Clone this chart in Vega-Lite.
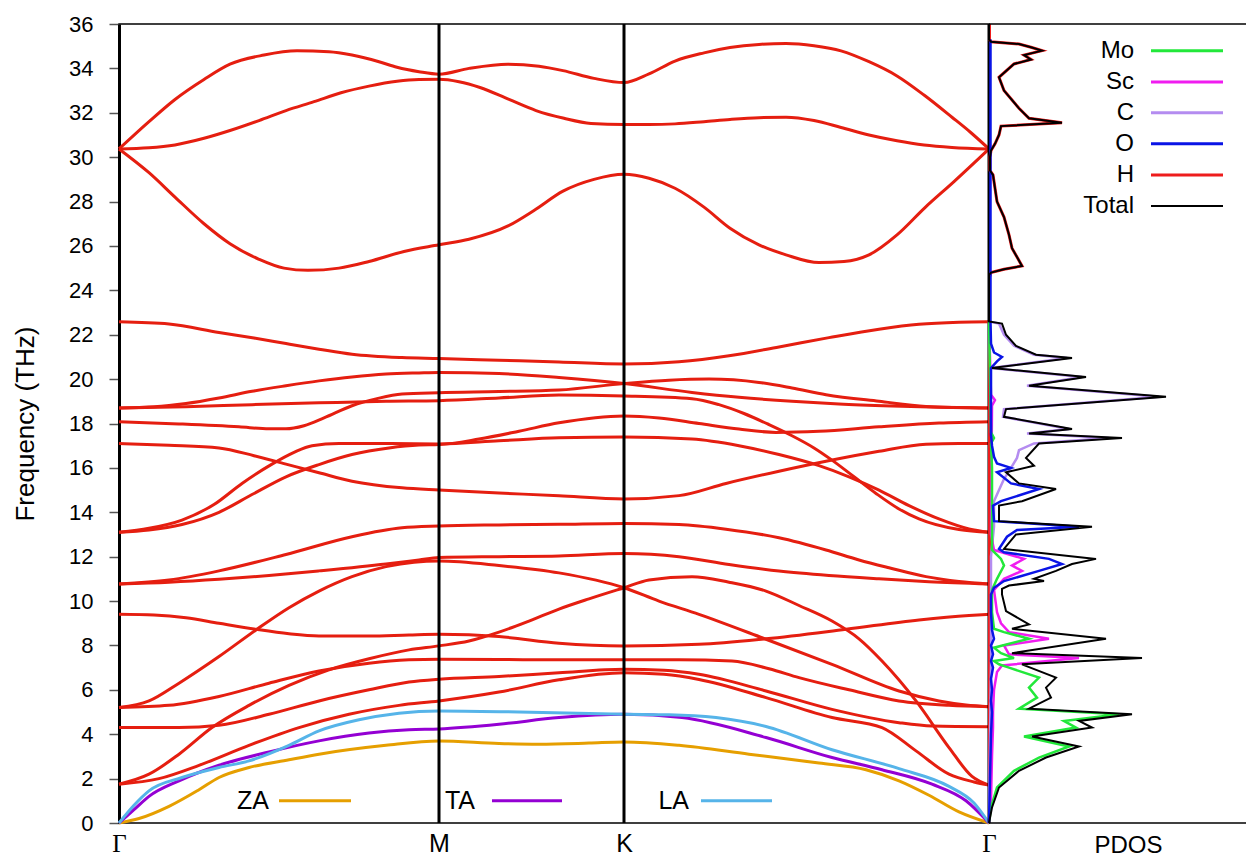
{
"$schema": "https://vega.github.io/schema/vega-lite/v6.json",
"background": "white",
"padding": {"left": 11, "top": 12, "right": 0, "bottom": 0},
"config": {"font": "Liberation Sans", "view": {"stroke": null}, "axis": {"grid": false}},
"spacing": 0,
"bounds": "flush",
"datasets": {
"opt": [
{"b":"A","x":0,"f":30.37},{"b":"A","x":30,"f":31.6},{"b":"A","x":56,"f":32.6},{"b":"A","x":85,"f":33.5},{"b":"A","x":111,"f":34.19},{"b":"A","x":145,"f":34.6},{"b":"A","x":178,"f":34.79},{"b":"A","x":210,"f":34.75},{"b":"A","x":233,"f":34.6},{"b":"A","x":260,"f":34.3},{"b":"A","x":278,"f":34.05},{"b":"A","x":300,"f":33.85},{"b":"A","x":320,"f":33.74},{"b":"A","x":350,"f":34.0},{"b":"A","x":389,"f":34.19},{"b":"A","x":420,"f":34.1},{"b":"A","x":444,"f":33.9},{"b":"A","x":475,"f":33.55},{"b":"A","x":505,"f":33.36},{"b":"A","x":530,"f":33.75},{"b":"A","x":556,"f":34.33},{"b":"A","x":585,"f":34.7},{"b":"A","x":611,"f":34.94},{"b":"A","x":640,"f":35.08},{"b":"A","x":667,"f":35.12},{"b":"A","x":695,"f":35.02},{"b":"A","x":722,"f":34.79},{"b":"A","x":750,"f":34.3},{"b":"A","x":778,"f":33.66},{"b":"A","x":805,"f":32.8},{"b":"A","x":833,"f":31.8},{"b":"A","x":852,"f":31.1},{"b":"A","x":870,"f":30.37},
{"b":"B","x":0,"f":30.37},{"b":"B","x":30,"f":30.42},{"b":"B","x":56,"f":30.55},{"b":"B","x":85,"f":30.85},{"b":"B","x":111,"f":31.2},{"b":"B","x":140,"f":31.65},{"b":"B","x":167,"f":32.1},{"b":"B","x":195,"f":32.5},{"b":"B","x":222,"f":32.9},{"b":"B","x":250,"f":33.2},{"b":"B","x":278,"f":33.42},{"b":"B","x":300,"f":33.5},{"b":"B","x":320,"f":33.51},{"b":"B","x":340,"f":33.4},{"b":"B","x":361,"f":33.14},{"b":"B","x":390,"f":32.6},{"b":"B","x":417,"f":32.1},{"b":"B","x":445,"f":31.75},{"b":"B","x":472,"f":31.52},{"b":"B","x":505,"f":31.47},{"b":"B","x":530,"f":31.47},{"b":"B","x":556,"f":31.5},{"b":"B","x":585,"f":31.6},{"b":"B","x":611,"f":31.7},{"b":"B","x":640,"f":31.78},{"b":"B","x":667,"f":31.8},{"b":"B","x":695,"f":31.65},{"b":"B","x":722,"f":31.34},{"b":"B","x":750,"f":31.0},{"b":"B","x":778,"f":30.74},{"b":"B","x":805,"f":30.55},{"b":"B","x":833,"f":30.44},{"b":"B","x":870,"f":30.37},
{"b":"C","x":0,"f":30.37},{"b":"C","x":30,"f":29.3},{"b":"C","x":56,"f":28.2},{"b":"C","x":85,"f":27.0},{"b":"C","x":111,"f":26.1},{"b":"C","x":140,"f":25.4},{"b":"C","x":165,"f":25.0},{"b":"C","x":189,"f":24.9},{"b":"C","x":220,"f":25.0},{"b":"C","x":250,"f":25.3},{"b":"C","x":285,"f":25.75},{"b":"C","x":320,"f":26.05},{"b":"C","x":350,"f":26.3},{"b":"C","x":389,"f":26.9},{"b":"C","x":415,"f":27.6},{"b":"C","x":444,"f":28.47},{"b":"C","x":475,"f":29.0},{"b":"C","x":505,"f":29.23},{"b":"C","x":530,"f":29.05},{"b":"C","x":556,"f":28.6},{"b":"C","x":585,"f":27.75},{"b":"C","x":611,"f":26.8},{"b":"C","x":640,"f":26.05},{"b":"C","x":667,"f":25.6},{"b":"C","x":700,"f":25.25},{"b":"C","x":725,"f":25.3},{"b":"C","x":750,"f":25.6},{"b":"C","x":778,"f":26.5},{"b":"C","x":806,"f":27.73},{"b":"C","x":835,"f":28.9},{"b":"C","x":870,"f":30.37},
{"b":"M1","x":0,"f":22.58},{"b":"M1","x":50,"f":22.48},{"b":"M1","x":100,"f":22.1},{"b":"M1","x":135,"f":21.85},{"b":"M1","x":167,"f":21.6},{"b":"M1","x":200,"f":21.35},{"b":"M1","x":233,"f":21.12},{"b":"M1","x":283,"f":20.97},{"b":"M1","x":320,"f":20.93},{"b":"M1","x":380,"f":20.85},{"b":"M1","x":440,"f":20.77},{"b":"M1","x":505,"f":20.68},{"b":"M1","x":560,"f":20.78},{"b":"M1","x":610,"f":21.05},{"b":"M1","x":660,"f":21.45},{"b":"M1","x":710,"f":21.87},{"b":"M1","x":760,"f":22.25},{"b":"M1","x":800,"f":22.47},{"b":"M1","x":840,"f":22.56},{"b":"M1","x":870,"f":22.58},
{"b":"M2","x":0,"f":18.7},{"b":"M2","x":35,"f":18.75},{"b":"M2","x":67,"f":18.9},{"b":"M2","x":100,"f":19.15},{"b":"M2","x":133,"f":19.45},{"b":"M2","x":167,"f":19.7},{"b":"M2","x":200,"f":19.92},{"b":"M2","x":233,"f":20.1},{"b":"M2","x":267,"f":20.23},{"b":"M2","x":300,"f":20.28},{"b":"M2","x":320,"f":20.3},{"b":"M2","x":380,"f":20.25},{"b":"M2","x":440,"f":20.07},{"b":"M2","x":505,"f":19.8},{"b":"M2","x":573,"f":19.4},{"b":"M2","x":620,"f":19.18},{"b":"M2","x":673,"f":19.0},{"b":"M2","x":720,"f":18.88},{"b":"M2","x":773,"f":18.79},{"b":"M2","x":820,"f":18.73},{"b":"M2","x":870,"f":18.7},
{"b":"M3","x":0,"f":18.08},{"b":"M3","x":60,"f":17.98},{"b":"M3","x":120,"f":17.85},{"b":"M3","x":150,"f":17.76},{"b":"M3","x":167,"f":17.76},{"b":"M3","x":185,"f":17.9},{"b":"M3","x":205,"f":18.25},{"b":"M3","x":233,"f":18.8},{"b":"M3","x":258,"f":19.12},{"b":"M3","x":283,"f":19.33},{"b":"M3","x":320,"f":19.39},{"b":"M3","x":380,"f":19.44},{"b":"M3","x":440,"f":19.51},{"b":"M3","x":505,"f":19.8},{"b":"M3","x":550,"f":19.95},{"b":"M3","x":590,"f":20.0},{"b":"M3","x":640,"f":19.85},{"b":"M3","x":673,"f":19.6},{"b":"M3","x":707,"f":19.3},{"b":"M3","x":760,"f":19.0},{"b":"M3","x":807,"f":18.77},{"b":"M3","x":870,"f":18.7},
{"b":"M4","x":0,"f":18.7},{"b":"M4","x":67,"f":18.75},{"b":"M4","x":133,"f":18.85},{"b":"M4","x":200,"f":18.93},{"b":"M4","x":267,"f":19.0},{"b":"M4","x":320,"f":19.03},{"b":"M4","x":380,"f":19.15},{"b":"M4","x":440,"f":19.28},{"b":"M4","x":505,"f":19.24},{"b":"M4","x":573,"f":19.12},{"b":"M4","x":600,"f":18.85},{"b":"M4","x":625,"f":18.45},{"b":"M4","x":650,"f":17.95},{"b":"M4","x":673,"f":17.45},{"b":"M4","x":695,"f":16.9},{"b":"M4","x":713,"f":16.35},{"b":"M4","x":735,"f":15.6},{"b":"M4","x":757,"f":14.85},{"b":"M4","x":780,"f":14.15},{"b":"M4","x":800,"f":13.7},{"b":"M4","x":840,"f":13.22},{"b":"M4","x":870,"f":13.1},
{"b":"M5","x":0,"f":17.1},{"b":"M5","x":50,"f":17.02},{"b":"M5","x":100,"f":16.9},{"b":"M5","x":135,"f":16.55},{"b":"M5","x":167,"f":16.17},{"b":"M5","x":200,"f":15.78},{"b":"M5","x":233,"f":15.4},{"b":"M5","x":283,"f":15.1},{"b":"M5","x":320,"f":15.0},{"b":"M5","x":380,"f":14.87},{"b":"M5","x":440,"f":14.74},{"b":"M5","x":505,"f":14.6},{"b":"M5","x":560,"f":14.75},{"b":"M5","x":607,"f":15.3},{"b":"M5","x":660,"f":15.85},{"b":"M5","x":707,"f":16.3},{"b":"M5","x":760,"f":16.75},{"b":"M5","x":807,"f":17.07},{"b":"M5","x":840,"f":17.1},{"b":"M5","x":870,"f":17.1},
{"b":"M6","x":0,"f":13.1},{"b":"M6","x":30,"f":13.28},{"b":"M6","x":63,"f":13.65},{"b":"M6","x":95,"f":14.35},{"b":"M6","x":123,"f":15.3},{"b":"M6","x":153,"f":16.17},{"b":"M6","x":175,"f":16.7},{"b":"M6","x":193,"f":17.0},{"b":"M6","x":220,"f":17.1},{"b":"M6","x":270,"f":17.1},{"b":"M6","x":320,"f":17.08},{"b":"M6","x":380,"f":17.22},{"b":"M6","x":440,"f":17.36},{"b":"M6","x":505,"f":17.39},{"b":"M6","x":573,"f":17.3},{"b":"M6","x":620,"f":17.0},{"b":"M6","x":660,"f":16.6},{"b":"M6","x":700,"f":16.1},{"b":"M6","x":730,"f":15.6},{"b":"M6","x":760,"f":15.0},{"b":"M6","x":790,"f":14.3},{"b":"M6","x":820,"f":13.7},{"b":"M6","x":850,"f":13.25},{"b":"M6","x":870,"f":13.1},
{"b":"M7","x":0,"f":13.1},{"b":"M7","x":30,"f":13.2},{"b":"M7","x":63,"f":13.45},{"b":"M7","x":100,"f":14.0},{"b":"M7","x":133,"f":14.8},{"b":"M7","x":167,"f":15.6},{"b":"M7","x":200,"f":16.15},{"b":"M7","x":233,"f":16.6},{"b":"M7","x":270,"f":16.9},{"b":"M7","x":300,"f":17.03},{"b":"M7","x":320,"f":17.05},{"b":"M7","x":360,"f":17.3},{"b":"M7","x":400,"f":17.65},{"b":"M7","x":440,"f":18.03},{"b":"M7","x":505,"f":18.34},{"b":"M7","x":540,"f":18.25},{"b":"M7","x":580,"f":18.0},{"b":"M7","x":620,"f":17.75},{"b":"M7","x":657,"f":17.6},{"b":"M7","x":700,"f":17.65},{"b":"M7","x":760,"f":17.85},{"b":"M7","x":820,"f":18.02},{"b":"M7","x":870,"f":18.08},
{"b":"L1","x":0,"f":10.77},{"b":"L1","x":50,"f":10.95},{"b":"L1","x":100,"f":11.36},{"b":"L1","x":167,"f":12.1},{"b":"L1","x":233,"f":12.9},{"b":"L1","x":283,"f":13.3},{"b":"L1","x":320,"f":13.38},{"b":"L1","x":380,"f":13.43},{"b":"L1","x":440,"f":13.46},{"b":"L1","x":505,"f":13.5},{"b":"L1","x":560,"f":13.45},{"b":"L1","x":607,"f":13.24},{"b":"L1","x":660,"f":12.85},{"b":"L1","x":707,"f":12.3},{"b":"L1","x":740,"f":11.85},{"b":"L1","x":770,"f":11.5},{"b":"L1","x":807,"f":11.1},{"b":"L1","x":840,"f":10.88},{"b":"L1","x":870,"f":10.77},
{"b":"L2","x":0,"f":10.77},{"b":"L2","x":50,"f":10.85},{"b":"L2","x":100,"f":10.98},{"b":"L2","x":150,"f":11.15},{"b":"L2","x":200,"f":11.36},{"b":"L2","x":267,"f":11.67},{"b":"L2","x":300,"f":11.85},{"b":"L2","x":320,"f":11.96},{"b":"L2","x":380,"f":12.0},{"b":"L2","x":440,"f":12.03},{"b":"L2","x":505,"f":12.14},{"b":"L2","x":560,"f":12.0},{"b":"L2","x":610,"f":11.65},{"b":"L2","x":660,"f":11.35},{"b":"L2","x":710,"f":11.15},{"b":"L2","x":760,"f":11.0},{"b":"L2","x":810,"f":10.87},{"b":"L2","x":870,"f":10.77},
{"b":"L3","x":0,"f":5.2},{"b":"L3","x":30,"f":5.5},{"b":"L3","x":60,"f":6.3},{"b":"L3","x":100,"f":7.5},{"b":"L3","x":137,"f":8.7},{"b":"L3","x":170,"f":9.7},{"b":"L3","x":200,"f":10.45},{"b":"L3","x":233,"f":11.1},{"b":"L3","x":267,"f":11.55},{"b":"L3","x":295,"f":11.75},{"b":"L3","x":320,"f":11.8},{"b":"L3","x":380,"f":11.6},{"b":"L3","x":440,"f":11.27},{"b":"L3","x":505,"f":10.6},{"b":"L3","x":540,"f":10.0},{"b":"L3","x":580,"f":9.4},{"b":"L3","x":647,"f":8.28},{"b":"L3","x":713,"f":7.15},{"b":"L3","x":780,"f":5.95},{"b":"L3","x":820,"f":5.5},{"b":"L3","x":847,"f":5.32},{"b":"L3","x":870,"f":5.24},
{"b":"L5","x":0,"f":1.75},{"b":"L5","x":30,"f":2.2},{"b":"L5","x":60,"f":3.1},{"b":"L5","x":93,"f":4.3},{"b":"L5","x":130,"f":5.3},{"b":"L5","x":170,"f":6.2},{"b":"L5","x":210,"f":6.9},{"b":"L5","x":250,"f":7.4},{"b":"L5","x":290,"f":7.8},{"b":"L5","x":320,"f":7.98},{"b":"L5","x":350,"f":8.2},{"b":"L5","x":380,"f":8.6},{"b":"L5","x":410,"f":9.1},{"b":"L5","x":440,"f":9.64},{"b":"L5","x":470,"f":10.1},{"b":"L5","x":505,"f":10.6},{"b":"L5","x":530,"f":10.95},{"b":"L5","x":573,"f":11.1},{"b":"L5","x":610,"f":10.85},{"b":"L5","x":647,"f":10.45},{"b":"L5","x":680,"f":9.8},{"b":"L5","x":713,"f":9.1},{"b":"L5","x":740,"f":8.3},{"b":"L5","x":763,"f":7.3},{"b":"L5","x":797,"f":5.5},{"b":"L5","x":830,"f":3.4},{"b":"L5","x":853,"f":2.1},{"b":"L5","x":870,"f":1.71},
{"b":"L6","x":0,"f":9.4},{"b":"L6","x":35,"f":9.37},{"b":"L6","x":67,"f":9.25},{"b":"L6","x":100,"f":9.0},{"b":"L6","x":137,"f":8.73},{"b":"L6","x":170,"f":8.53},{"b":"L6","x":200,"f":8.43},{"b":"L6","x":250,"f":8.42},{"b":"L6","x":290,"f":8.47},{"b":"L6","x":320,"f":8.5},{"b":"L6","x":380,"f":8.4},{"b":"L6","x":440,"f":8.1},{"b":"L6","x":505,"f":7.98},{"b":"L6","x":580,"f":8.05},{"b":"L6","x":647,"f":8.3},{"b":"L6","x":727,"f":8.73},{"b":"L6","x":800,"f":9.15},{"b":"L6","x":850,"f":9.35},{"b":"L6","x":870,"f":9.4},
{"b":"L7","x":0,"f":5.2},{"b":"L7","x":50,"f":5.3},{"b":"L7","x":100,"f":5.7},{"b":"L7","x":150,"f":6.3},{"b":"L7","x":200,"f":6.85},{"b":"L7","x":250,"f":7.2},{"b":"L7","x":290,"f":7.35},{"b":"L7","x":320,"f":7.38},{"b":"L7","x":380,"f":7.37},{"b":"L7","x":440,"f":7.35},{"b":"L7","x":505,"f":7.35},{"b":"L7","x":560,"f":7.35},{"b":"L7","x":613,"f":7.3},{"b":"L7","x":650,"f":6.95},{"b":"L7","x":680,"f":6.55},{"b":"L7","x":730,"f":6.0},{"b":"L7","x":780,"f":5.5},{"b":"L7","x":830,"f":5.3},{"b":"L7","x":870,"f":5.24},
{"b":"L8","x":0,"f":1.75},{"b":"L8","x":40,"f":2.0},{"b":"L8","x":80,"f":2.6},{"b":"L8","x":130,"f":3.5},{"b":"L8","x":180,"f":4.3},{"b":"L8","x":230,"f":4.9},{"b":"L8","x":280,"f":5.3},{"b":"L8","x":320,"f":5.5},{"b":"L8","x":380,"f":5.9},{"b":"L8","x":440,"f":6.45},{"b":"L8","x":505,"f":6.77},{"b":"L8","x":545,"f":6.7},{"b":"L8","x":580,"f":6.47},{"b":"L8","x":647,"f":5.65},{"b":"L8","x":713,"f":4.75},{"b":"L8","x":763,"f":4.3},{"b":"L8","x":797,"f":3.25},{"b":"L8","x":830,"f":2.2},{"b":"L8","x":855,"f":1.85},{"b":"L8","x":870,"f":1.71},
{"b":"L9","x":0,"f":4.3},{"b":"L9","x":60,"f":4.3},{"b":"L9","x":100,"f":4.4},{"b":"L9","x":150,"f":4.9},{"b":"L9","x":200,"f":5.5},{"b":"L9","x":250,"f":6.0},{"b":"L9","x":290,"f":6.35},{"b":"L9","x":320,"f":6.48},{"b":"L9","x":380,"f":6.6},{"b":"L9","x":440,"f":6.77},{"b":"L9","x":505,"f":6.93},{"b":"L9","x":545,"f":6.88},{"b":"L9","x":580,"f":6.7},{"b":"L9","x":647,"f":5.95},{"b":"L9","x":713,"f":5.12},{"b":"L9","x":780,"f":4.52},{"b":"L9","x":813,"f":4.37},{"b":"L9","x":870,"f":4.34}
],
"ac": [
{"b":"ZA","x":0,"f":0},{"b":"ZA","x":20,"f":0.2},{"b":"ZA","x":50,"f":0.75},{"b":"ZA","x":80,"f":1.5},{"b":"ZA","x":100,"f":2.05},{"b":"ZA","x":130,"f":2.5},{"b":"ZA","x":170,"f":2.85},{"b":"ZA","x":200,"f":3.1},{"b":"ZA","x":267,"f":3.5},{"b":"ZA","x":320,"f":3.7},{"b":"ZA","x":380,"f":3.58},{"b":"ZA","x":420,"f":3.55},{"b":"ZA","x":470,"f":3.6},{"b":"ZA","x":505,"f":3.65},{"b":"ZA","x":560,"f":3.5},{"b":"ZA","x":630,"f":3.1},{"b":"ZA","x":700,"f":2.7},{"b":"ZA","x":747,"f":2.4},{"b":"ZA","x":780,"f":1.9},{"b":"ZA","x":810,"f":1.25},{"b":"ZA","x":840,"f":0.5},{"b":"ZA","x":870,"f":0},
{"b":"TA","x":0,"f":0},{"b":"TA","x":15,"f":0.6},{"b":"TA","x":30,"f":1.2},{"b":"TA","x":60,"f":1.9},{"b":"TA","x":100,"f":2.6},{"b":"TA","x":150,"f":3.2},{"b":"TA","x":200,"f":3.7},{"b":"TA","x":250,"f":4.05},{"b":"TA","x":290,"f":4.2},{"b":"TA","x":320,"f":4.24},{"b":"TA","x":380,"f":4.45},{"b":"TA","x":440,"f":4.75},{"b":"TA","x":505,"f":4.9},{"b":"TA","x":563,"f":4.75},{"b":"TA","x":647,"f":3.85},{"b":"TA","x":713,"f":2.95},{"b":"TA","x":763,"f":2.4},{"b":"TA","x":813,"f":1.75},{"b":"TA","x":847,"f":1.0},{"b":"TA","x":870,"f":0},
{"b":"LA","x":0,"f":0},{"b":"LA","x":15,"f":0.8},{"b":"LA","x":30,"f":1.45},{"b":"LA","x":63,"f":2.05},{"b":"LA","x":100,"f":2.5},{"b":"LA","x":130,"f":2.8},{"b":"LA","x":170,"f":3.5},{"b":"LA","x":200,"f":4.15},{"b":"LA","x":240,"f":4.65},{"b":"LA","x":280,"f":4.95},{"b":"LA","x":320,"f":5.05},{"b":"LA","x":400,"f":5.0},{"b":"LA","x":505,"f":4.9},{"b":"LA","x":550,"f":4.88},{"b":"LA","x":597,"f":4.75},{"b":"LA","x":647,"f":4.35},{"b":"LA","x":713,"f":3.3},{"b":"LA","x":780,"f":2.45},{"b":"LA","x":830,"f":1.65},{"b":"LA","x":855,"f":0.9},{"b":"LA","x":870,"f":0}
],
"pdos": [
{"s":"Total","f":0,"v":0},{"s":"Total","f":0.7,"v":3},{"s":"Total","f":1.6,"v":10},{"s":"Total","f":2.35,"v":30},{"s":"Total","f":2.95,"v":57},{"s":"Total","f":3.45,"v":90},{"s":"Total","f":3.9,"v":43},{"s":"Total","f":4.3,"v":103},{"s":"Total","f":4.6,"v":90},{"s":"Total","f":4.9,"v":143},{"s":"Total","f":5.15,"v":40},{"s":"Total","f":5.65,"v":62},{"s":"Total","f":6.1,"v":57},{"s":"Total","f":6.55,"v":67},{"s":"Total","f":7.15,"v":33},{"s":"Total","f":7.43,"v":153},{"s":"Total","f":7.65,"v":23},{"s":"Total","f":8.3,"v":117},{"s":"Total","f":8.75,"v":23},{"s":"Total","f":8.95,"v":40},{"s":"Total","f":9.55,"v":17},{"s":"Total","f":10.3,"v":13},{"s":"Total","f":10.55,"v":13},{"s":"Total","f":10.7,"v":20},{"s":"Total","f":10.9,"v":55},{"s":"Total","f":11.0,"v":45},{"s":"Total","f":11.36,"v":67},{"s":"Total","f":11.67,"v":83},{"s":"Total","f":11.9,"v":107},{"s":"Total","f":12.35,"v":15},{"s":"Total","f":13.0,"v":27},{"s":"Total","f":13.35,"v":103},{"s":"Total","f":13.6,"v":10},{"s":"Total","f":14.3,"v":10},{"s":"Total","f":14.5,"v":33},{"s":"Total","f":15.05,"v":67},{"s":"Total","f":15.3,"v":30},{"s":"Total","f":15.8,"v":17},{"s":"Total","f":16.1,"v":45},{"s":"Total","f":16.45,"v":37},{"s":"Total","f":17.1,"v":50},{"s":"Total","f":17.35,"v":133},{"s":"Total","f":17.55,"v":40},{"s":"Total","f":17.75,"v":83},{"s":"Total","f":18.3,"v":15},{"s":"Total","f":18.65,"v":17},{"s":"Total","f":19.2,"v":177},{"s":"Total","f":19.7,"v":40},{"s":"Total","f":20.1,"v":97},{"s":"Total","f":20.5,"v":3},{"s":"Total","f":20.95,"v":83},{"s":"Total","f":21.1,"v":47},{"s":"Total","f":21.5,"v":27},{"s":"Total","f":22.0,"v":17},{"s":"Total","f":22.5,"v":13},{"s":"Total","f":22.6,"v":0},{"s":"Total","f":24.7,"v":0},{"s":"Total","f":24.8,"v":2},{"s":"Total","f":24.95,"v":15},{"s":"Total","f":25.1,"v":33},{"s":"Total","f":25.5,"v":28},{"s":"Total","f":25.9,"v":23},{"s":"Total","f":26.5,"v":20},{"s":"Total","f":27.3,"v":15},{"s":"Total","f":28.0,"v":8},{"s":"Total","f":29.2,"v":4},{"s":"Total","f":29.4,"v":1},{"s":"Total","f":30.0,"v":1},{"s":"Total","f":30.3,"v":2},{"s":"Total","f":30.6,"v":6},{"s":"Total","f":31.0,"v":10},{"s":"Total","f":31.4,"v":12},{"s":"Total","f":31.55,"v":73},{"s":"Total","f":31.75,"v":40},{"s":"Total","f":32.2,"v":30},{"s":"Total","f":33.0,"v":15},{"s":"Total","f":33.6,"v":10},{"s":"Total","f":34.2,"v":25},{"s":"Total","f":34.4,"v":42},{"s":"Total","f":34.6,"v":35},{"s":"Total","f":34.8,"v":53},{"s":"Total","f":34.95,"v":42},{"s":"Total","f":35.1,"v":30},{"s":"Total","f":35.2,"v":2},{"s":"Total","f":35.3,"v":0},{"s":"Total","f":36,"v":0},
{"s":"H","f":0,"v":0.5},{"s":"H","f":24.6,"v":0.5},{"s":"H","f":24.8,"v":2},{"s":"H","f":24.95,"v":15},{"s":"H","f":25.1,"v":33},{"s":"H","f":25.5,"v":28},{"s":"H","f":25.9,"v":23},{"s":"H","f":26.5,"v":20},{"s":"H","f":27.3,"v":15},{"s":"H","f":28.0,"v":8},{"s":"H","f":29.2,"v":4},{"s":"H","f":29.4,"v":1},{"s":"H","f":30.0,"v":1},{"s":"H","f":30.3,"v":2},{"s":"H","f":30.6,"v":6},{"s":"H","f":31.0,"v":10},{"s":"H","f":31.4,"v":12},{"s":"H","f":31.55,"v":73},{"s":"H","f":31.75,"v":40},{"s":"H","f":32.2,"v":30},{"s":"H","f":33.0,"v":15},{"s":"H","f":33.6,"v":10},{"s":"H","f":34.2,"v":25},{"s":"H","f":34.4,"v":42},{"s":"H","f":34.6,"v":35},{"s":"H","f":34.8,"v":53},{"s":"H","f":34.95,"v":42},{"s":"H","f":35.1,"v":30},{"s":"H","f":35.2,"v":2},{"s":"H","f":35.3,"v":0.5},{"s":"H","f":36,"v":0.5},
{"s":"O","f":0,"v":0},{"s":"O","f":1,"v":0.5},{"s":"O","f":2,"v":1},{"s":"O","f":3,"v":1.5},{"s":"O","f":4,"v":2},{"s":"O","f":5,"v":3},{"s":"O","f":5.5,"v":2},{"s":"O","f":6,"v":3},{"s":"O","f":6.5,"v":2},{"s":"O","f":7,"v":4},{"s":"O","f":7.3,"v":2},{"s":"O","f":7.6,"v":4},{"s":"O","f":8,"v":2},{"s":"O","f":8.3,"v":5},{"s":"O","f":8.7,"v":3},{"s":"O","f":9.5,"v":2},{"s":"O","f":10.3,"v":2},{"s":"O","f":10.6,"v":5},{"s":"O","f":10.9,"v":15},{"s":"O","f":11.36,"v":50},{"s":"O","f":11.67,"v":73},{"s":"O","f":11.9,"v":60},{"s":"O","f":12.2,"v":15},{"s":"O","f":12.35,"v":10},{"s":"O","f":12.9,"v":18},{"s":"O","f":13.2,"v":28},{"s":"O","f":13.35,"v":90},{"s":"O","f":13.6,"v":5},{"s":"O","f":14.3,"v":4},{"s":"O","f":14.5,"v":12},{"s":"O","f":15.05,"v":50},{"s":"O","f":15.3,"v":22},{"s":"O","f":15.8,"v":8},{"s":"O","f":16.0,"v":22},{"s":"O","f":16.2,"v":8},{"s":"O","f":16.5,"v":5},{"s":"O","f":17.0,"v":3},{"s":"O","f":17.5,"v":2},{"s":"O","f":20.5,"v":2},{"s":"O","f":20.8,"v":8},{"s":"O","f":21.0,"v":13},{"s":"O","f":21.2,"v":5},{"s":"O","f":21.6,"v":2},{"s":"O","f":22.6,"v":1.5},{"s":"O","f":35.3,"v":1.5},
{"s":"C","f":0,"v":0},{"s":"C","f":7.4,"v":2},{"s":"C","f":12,"v":2},{"s":"C","f":13.35,"v":5},{"s":"C","f":14.5,"v":5},{"s":"C","f":15.0,"v":10},{"s":"C","f":15.5,"v":15},{"s":"C","f":16.0,"v":22},{"s":"C","f":16.45,"v":28},{"s":"C","f":16.8,"v":30},{"s":"C","f":17.1,"v":45},{"s":"C","f":17.35,"v":120},{"s":"C","f":17.55,"v":38},{"s":"C","f":17.75,"v":80},{"s":"C","f":18.3,"v":14},{"s":"C","f":18.65,"v":15},{"s":"C","f":19.2,"v":170},{"s":"C","f":19.7,"v":38},{"s":"C","f":20.1,"v":93},{"s":"C","f":20.5,"v":2},{"s":"C","f":20.95,"v":78},{"s":"C","f":21.1,"v":45},{"s":"C","f":21.5,"v":25},{"s":"C","f":22.0,"v":15},{"s":"C","f":22.5,"v":10},{"s":"C","f":22.6,"v":0},
{"s":"Sc","f":0,"v":0},{"s":"Sc","f":1,"v":2},{"s":"Sc","f":3,"v":3},{"s":"Sc","f":4.3,"v":4},{"s":"Sc","f":5,"v":4},{"s":"Sc","f":6,"v":5},{"s":"Sc","f":6.8,"v":8},{"s":"Sc","f":7.1,"v":13},{"s":"Sc","f":7.43,"v":90},{"s":"Sc","f":7.6,"v":20},{"s":"Sc","f":8.0,"v":15},{"s":"Sc","f":8.3,"v":60},{"s":"Sc","f":8.6,"v":20},{"s":"Sc","f":9.0,"v":12},{"s":"Sc","f":9.5,"v":8},{"s":"Sc","f":10.5,"v":5},{"s":"Sc","f":11.0,"v":15},{"s":"Sc","f":11.36,"v":33},{"s":"Sc","f":11.6,"v":23},{"s":"Sc","f":11.9,"v":35},{"s":"Sc","f":12.3,"v":5},{"s":"Sc","f":13,"v":2},{"s":"Sc","f":18.8,"v":3},{"s":"Sc","f":19.05,"v":6},{"s":"Sc","f":19.3,"v":2},{"s":"Sc","f":22.6,"v":0},
{"s":"Mo","f":0,"v":0},{"s":"Mo","f":0.7,"v":2},{"s":"Mo","f":1.6,"v":8},{"s":"Mo","f":2.35,"v":25},{"s":"Mo","f":2.95,"v":50},{"s":"Mo","f":3.45,"v":80},{"s":"Mo","f":3.9,"v":35},{"s":"Mo","f":4.3,"v":87},{"s":"Mo","f":4.6,"v":75},{"s":"Mo","f":4.9,"v":130},{"s":"Mo","f":5.15,"v":30},{"s":"Mo","f":5.65,"v":48},{"s":"Mo","f":6.1,"v":40},{"s":"Mo","f":6.55,"v":50},{"s":"Mo","f":7.0,"v":20},{"s":"Mo","f":7.15,"v":10},{"s":"Mo","f":7.3,"v":5},{"s":"Mo","f":7.43,"v":25},{"s":"Mo","f":7.65,"v":12},{"s":"Mo","f":7.9,"v":5},{"s":"Mo","f":8.3,"v":40},{"s":"Mo","f":8.6,"v":15},{"s":"Mo","f":8.75,"v":5},{"s":"Mo","f":9.5,"v":3},{"s":"Mo","f":10.5,"v":3},{"s":"Mo","f":11.0,"v":8},{"s":"Mo","f":11.6,"v":15},{"s":"Mo","f":11.9,"v":12},{"s":"Mo","f":12.3,"v":3},{"s":"Mo","f":16,"v":3},{"s":"Mo","f":17.1,"v":2},{"s":"Mo","f":17.35,"v":5},{"s":"Mo","f":17.6,"v":2},{"s":"Mo","f":22.6,"v":0}
],
"kpts": [{"p":"M","x":320},{"p":"K","x":505},{"p":"Γ","x":870}]
},
"hconcat": [
{
"width": 870, "height": 799,
"view": {"stroke": "black", "strokeWidth": 1.5},
"layer": [
{"data": {"name": "opt"},
 "mark": {"type": "line", "interpolate": "monotone", "strokeWidth": 3, "color": "#E51E10"},
 "encoding": {
  "x": {"field": "x", "type": "quantitative", "scale": {"domain": [0, 870], "nice": false, "zero": false},
        "axis": {"values": [0, 320, 505, 870], "labelExpr": "datum.value == 320 ? 'M' : datum.value == 505 ? 'K' : 'Γ'", "ticks": false, "domain": false, "grid": false, "title": null, "labelFontSize": 25, "labelColor": "black", "labelPadding": 8, "labelFlush": false, "labelOverlap": false, "labelFont": {"condition": {"test": "datum.value == 0 || datum.value == 870", "value": "Liberation Serif"}, "value": "Liberation Sans"}}},
  "y": {"field": "f", "type": "quantitative", "scale": {"domain": [0, 36], "nice": false, "zero": false},
        "axis": {"values": [0,2,4,6,8,10,12,14,16,18,20,22,24,26,28,30,32,34,36], "tickSize": 10, "tickColor": "#555555", "tickWidth": 1.5, "domainColor": "black", "domainWidth": 3, "labelFontSize": 22, "labelColor": "black", "labelPadding": 16, "labelFont": "Liberation Sans", "grid": false, "title": "Frequency (THz)", "titleFontSize": 26, "titleFontWeight": "normal", "titleColor": "black", "titleFont": "Liberation Sans", "titlePadding": 30}},
  "detail": {"field": "b", "type": "nominal"}
 }},
{"data": {"name": "ac"}, "transform": [{"filter": "datum.b == 'ZA'"}],
 "mark": {"type": "line", "interpolate": "monotone", "strokeWidth": 3, "color": "#E69F00"},
 "encoding": {"x": {"field": "x", "type": "quantitative"}, "y": {"field": "f", "type": "quantitative"}}},
{"data": {"name": "ac"}, "transform": [{"filter": "datum.b == 'TA'"}],
 "mark": {"type": "line", "interpolate": "monotone", "strokeWidth": 3, "color": "#9400D3"},
 "encoding": {"x": {"field": "x", "type": "quantitative"}, "y": {"field": "f", "type": "quantitative"}}},
{"data": {"name": "ac"}, "transform": [{"filter": "datum.b == 'LA'"}],
 "mark": {"type": "line", "interpolate": "monotone", "strokeWidth": 3, "color": "#56B4E9"},
 "encoding": {"x": {"field": "x", "type": "quantitative"}, "y": {"field": "f", "type": "quantitative"}}},
{"data": {"name": "kpts"},
 "mark": {"type": "rule", "color": "black", "strokeWidth": 3},
 "encoding": {"x": {"field": "x", "type": "quantitative"}}},
{"data": {"values": [{}]}, "mark": {"type": "rule", "color": "#E69F00", "strokeWidth": 3},
 "encoding": {"x": {"datum": 160}, "x2": {"datum": 232}, "y": {"datum": 1.0}}},
{"data": {"values": [{}]}, "mark": {"type": "rule", "color": "#9400D3", "strokeWidth": 3},
 "encoding": {"x": {"datum": 373}, "x2": {"datum": 443}, "y": {"datum": 1.0}}},
{"data": {"values": [{}]}, "mark": {"type": "rule", "color": "#56B4E9", "strokeWidth": 3},
 "encoding": {"x": {"datum": 582}, "x2": {"datum": 653}, "y": {"datum": 1.0}}},
{"data": {"values": [{}]}, "mark": {"type": "text", "text": "ZA", "align": "right", "baseline": "middle", "fontSize": 25, "color": "black"},
 "encoding": {"x": {"datum": 150}, "y": {"datum": 1.0}}},
{"data": {"values": [{}]}, "mark": {"type": "text", "text": "TA", "align": "right", "baseline": "middle", "fontSize": 25, "color": "black"},
 "encoding": {"x": {"datum": 356}, "y": {"datum": 1.0}}},
{"data": {"values": [{}]}, "mark": {"type": "text", "text": "LA", "align": "right", "baseline": "middle", "fontSize": 25, "color": "black"},
 "encoding": {"x": {"datum": 570}, "y": {"datum": 1.0}}}
]
},
{
"width": 257, "height": 799,
"layer": [
{"data": {"name": "pdos"}, "transform": [{"filter": "datum.s == 'H'"}],
 "mark": {"type": "line", "strokeWidth": 3, "color": "#EE1C1C"},
 "encoding": {
  "x": {"field": "v", "type": "quantitative", "scale": {"domain": [0, 257], "nice": false, "zero": false},
        "axis": {"domain": false, "ticks": false, "labels": false, "grid": false, "title": "PDOS", "titleFontSize": 24, "titleFontWeight": "normal", "titleColor": "black", "titleFont": "Liberation Sans", "titleX": 139, "titleY": 22, "titleBaseline": "middle"}},
  "y": {"field": "f", "type": "quantitative", "scale": {"domain": [0, 36], "nice": false, "zero": false}, "axis": null},
  "order": {"field": "f", "type": "quantitative"}}},
{"data": {"name": "pdos"}, "transform": [{"filter": "datum.s == 'C'"}],
 "mark": {"type": "line", "strokeWidth": 2.5, "color": "#B48CF0"},
 "encoding": {"x": {"field": "v", "type": "quantitative"}, "y": {"field": "f", "type": "quantitative", "axis": null}, "order": {"field": "f", "type": "quantitative"}}},
{"data": {"name": "pdos"}, "transform": [{"filter": "datum.s == 'Sc'"}],
 "mark": {"type": "line", "strokeWidth": 2.5, "color": "#F01CF0"},
 "encoding": {"x": {"field": "v", "type": "quantitative"}, "y": {"field": "f", "type": "quantitative", "axis": null}, "order": {"field": "f", "type": "quantitative"}}},
{"data": {"name": "pdos"}, "transform": [{"filter": "datum.s == 'Mo'"}],
 "mark": {"type": "line", "strokeWidth": 2.5, "color": "#22E83A"},
 "encoding": {"x": {"field": "v", "type": "quantitative"}, "y": {"field": "f", "type": "quantitative", "axis": null}, "order": {"field": "f", "type": "quantitative"}}},
{"data": {"name": "pdos"}, "transform": [{"filter": "datum.s == 'O'"}],
 "mark": {"type": "line", "strokeWidth": 2.5, "color": "#0A14E6"},
 "encoding": {"x": {"field": "v", "type": "quantitative"}, "y": {"field": "f", "type": "quantitative", "axis": null}, "order": {"field": "f", "type": "quantitative"}}},
{"data": {"name": "pdos"}, "transform": [{"filter": "datum.s == 'Total'"}],
 "mark": {"type": "line", "strokeWidth": 2, "color": "black"},
 "encoding": {"x": {"field": "v", "type": "quantitative"}, "y": {"field": "f", "type": "quantitative", "axis": null}, "order": {"field": "f", "type": "quantitative"}}},
{"data": {"values": [{}]}, "mark": {"type": "rule", "color": "black", "strokeWidth": 1.5},
 "encoding": {"y": {"datum": 36, "axis": null}}},
{"data": {"values": [{}]}, "mark": {"type": "rule", "color": "black", "strokeWidth": 1.5},
 "encoding": {"y": {"datum": 0, "axis": null}}},
{"data": {"values": [{}]}, "mark": {"type": "rule", "color": "#22E83A", "strokeWidth": 3},
 "encoding": {"x": {"datum": 162}, "x2": {"datum": 234}, "y": {"datum": 34.79, "axis": null}}},
{"data": {"values": [{}]}, "mark": {"type": "rule", "color": "#F01CF0", "strokeWidth": 3},
 "encoding": {"x": {"datum": 162}, "x2": {"datum": 234}, "y": {"datum": 33.39, "axis": null}}},
{"data": {"values": [{}]}, "mark": {"type": "rule", "color": "#B48CF0", "strokeWidth": 3},
 "encoding": {"x": {"datum": 162}, "x2": {"datum": 234}, "y": {"datum": 32.0, "axis": null}}},
{"data": {"values": [{}]}, "mark": {"type": "rule", "color": "#0A14E6", "strokeWidth": 3},
 "encoding": {"x": {"datum": 162}, "x2": {"datum": 234}, "y": {"datum": 30.6, "axis": null}}},
{"data": {"values": [{}]}, "mark": {"type": "rule", "color": "#EE1C1C", "strokeWidth": 3},
 "encoding": {"x": {"datum": 162}, "x2": {"datum": 234}, "y": {"datum": 29.2, "axis": null}}},
{"data": {"values": [{}]}, "mark": {"type": "rule", "color": "black", "strokeWidth": 2},
 "encoding": {"x": {"datum": 162}, "x2": {"datum": 234}, "y": {"datum": 27.8, "axis": null}}},
{"data": {"values": [{}]}, "mark": {"type": "text", "text": "Mo", "align": "right", "baseline": "middle", "fontSize": 24, "color": "black"},
 "encoding": {"x": {"datum": 145}, "y": {"datum": 34.79, "axis": null}}},
{"data": {"values": [{}]}, "mark": {"type": "text", "text": "Sc", "align": "right", "baseline": "middle", "fontSize": 24, "color": "black"},
 "encoding": {"x": {"datum": 145}, "y": {"datum": 33.39, "axis": null}}},
{"data": {"values": [{}]}, "mark": {"type": "text", "text": "C", "align": "right", "baseline": "middle", "fontSize": 24, "color": "black"},
 "encoding": {"x": {"datum": 145}, "y": {"datum": 32.0, "axis": null}}},
{"data": {"values": [{}]}, "mark": {"type": "text", "text": "O", "align": "right", "baseline": "middle", "fontSize": 24, "color": "black"},
 "encoding": {"x": {"datum": 145}, "y": {"datum": 30.6, "axis": null}}},
{"data": {"values": [{}]}, "mark": {"type": "text", "text": "H", "align": "right", "baseline": "middle", "fontSize": 24, "color": "black"},
 "encoding": {"x": {"datum": 145}, "y": {"datum": 29.2, "axis": null}}},
{"data": {"values": [{}]}, "mark": {"type": "text", "text": "Total", "align": "right", "baseline": "middle", "fontSize": 24, "color": "black"},
 "encoding": {"x": {"datum": 145}, "y": {"datum": 27.8, "axis": null}}}
]
}
]
}
